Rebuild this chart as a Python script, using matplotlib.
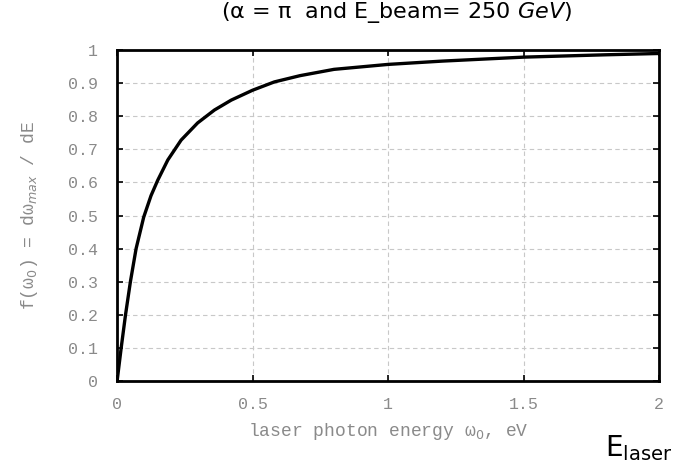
import matplotlib
matplotlib.use("Agg")
import matplotlib.pyplot as plt

# values
omega0 = [0, 0.015, 0.031, 0.049, 0.07, 0.098, 0.125, 0.15, 0.187, 0.236, 0.297,
          0.359, 0.421, 0.5, 0.58, 0.675, 0.8, 1.0, 1.2, 1.5, 1.8, 2.0]
f_ratio = [0, 0.1, 0.2, 0.3, 0.4, 0.495, 0.56, 0.607, 0.668, 0.728, 0.78,
           0.819, 0.849, 0.879, 0.904, 0.923, 0.942, 0.957, 0.967, 0.979, 0.986, 0.99]
x_ticks = [0, 0.5, 1, 1.5, 2]
y_ticks = [0, 0.1, 0.2, 0.3, 0.4, 0.5, 0.6, 0.7, 0.8, 0.9, 1]

mono = "Liberation Mono"
grey = "#8a8a8a"

fig = plt.figure(figsize=(6.81, 4.69), dpi=100)
ax = fig.add_axes([0.172, 0.188, 0.796, 0.705])

ax.plot(omega0, f_ratio, color="black", linewidth=2.4)

ax.set_xlim(0, 2)
ax.set_ylim(0, 1)
ax.set_xticks(x_ticks)
ax.set_xticklabels(["0", "0.5", "1", "1.5", "2"])
ax.set_yticks(y_ticks)
ax.set_yticklabels(["0", "0.1", "0.2", "0.3", "0.4", "0.5", "0.6", "0.7", "0.8", "0.9", "1"])
ax.tick_params(direction="in", top=True, right=True, length=4, width=1.2,
               labelsize=12, labelcolor=grey)
ax.tick_params(axis="x", pad=12)
ax.tick_params(axis="y", pad=14)
for lab in ax.get_xticklabels() + ax.get_yticklabels():
    lab.set_family(mono)

ax.grid(True, color="#c8c8c8", linestyle=(0, (4, 3)), linewidth=0.8)
for sp in ax.spines.values():
    sp.set_linewidth(2)

ax.set_xlabel("laser photon energy ω$_0$, eV", family=mono, color=grey,
              fontsize=13, labelpad=6)
ax.set_ylabel("f(ω$_0$) = dω$_{max}$ / dE", family=mono, color=grey,
              fontsize=13, labelpad=20)

fig.text(0.583, 0.974, "(α = π  and E_beam= 250 $\\it{GeV}$)", ha="center", va="center",
         fontsize=16, color="black")
fig.text(0.888, 0.045, "E$_{\\mathrm{laser}}$", ha="left", va="center",
         fontsize=20, color="black")

fig.savefig("out.png", dpi=100)
